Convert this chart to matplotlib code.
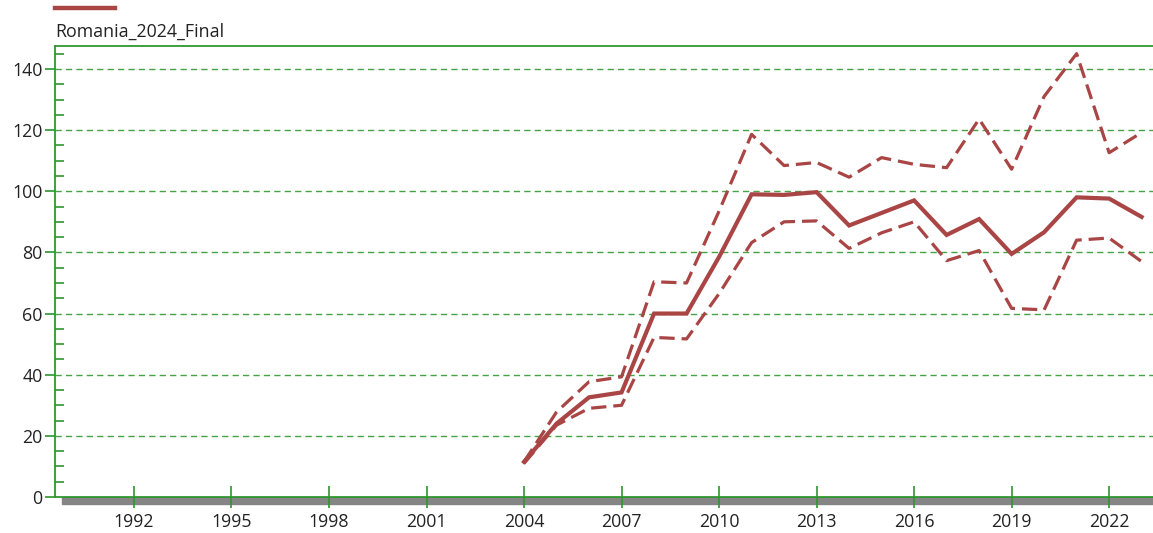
import matplotlib.pyplot as plt
from matplotlib.lines import Line2D
from matplotlib.patches import Rectangle
from matplotlib.ticker import MultipleLocator

years = list(range(2004, 2024))
central = [11.5, 24.0, 32.6, 34.2, 60.0, 60.0, 78.5, 99.0, 98.8, 99.7,
           88.8, 92.9, 97.0, 85.7, 90.9, 79.5, 86.6, 98.0, 97.6, 91.6]
upper = [11.5, 27.8, 37.7, 39.3, 70.4, 70.0, 93.5, 118.6, 108.4, 109.4,
         104.6, 111.0, 108.8, 107.7, 123.6, 107.2, 131.0, 145.0, 112.6, 119.2]
lower = [11.0, 23.5, 29.0, 30.0, 52.2, 51.7, 66.5, 83.2, 90.0, 90.3,
         81.3, 86.4, 90.0, 77.3, 80.6, 61.7, 61.2, 84.0, 84.7, 77.0]
x_ticks = [1992, 1995, 1998, 2001, 2004, 2007, 2010, 2013, 2016, 2019, 2022]
series_name = "Romania_2024_Final"

RED = "#a94545"
GREEN = "#2f962f"
GRID = "#45a345"
TXT = "#222222"

plt.rcParams['font.family'] = ['Open Sans', 'DejaVu Sans']
plt.rcParams['lines.scale_dashes'] = False

fig = plt.figure(figsize=(11.53, 5.33), dpi=100)
ax = fig.add_axes([55 / 1153, 1 - 497 / 533, 1 - 55 / 1153, (497 - 46) / 533])

ax.plot(years, upper, color=RED, lw=2.3, dashes=(11, 5), zorder=3)
ax.plot(years, lower, color=RED, lw=2.3, dashes=(11, 5), zorder=3)
ax.plot(years, central, color=RED, lw=3.0, solid_joinstyle='miter', zorder=4)

ax.set_xlim(1989.57, 2023.35)
ax.set_ylim(0, 147.5)

ax.set_xticks(x_ticks)
ax.set_xticklabels([str(y) for y in x_ticks])
ax.yaxis.set_major_locator(MultipleLocator(20))
ax.yaxis.set_minor_locator(MultipleLocator(5))

for y in range(20, 141, 20):
    ax.axhline(y, color=GRID, lw=1.0, dashes=(4.5, 3), zorder=1)

for side in ['left', 'bottom', 'top']:
    ax.spines[side].set_color(GREEN)
    ax.spines[side].set_linewidth(1.3)
ax.spines['right'].set_visible(False)

ax.tick_params(axis='x', which='major', direction='inout', length=16.5, width=1.2,
               color=GREEN, labelsize=12.8, labelcolor=TXT, pad=3)
ax.tick_params(axis='y', which='major', direction='out', length=7, width=1.2,
               color=GREEN, labelsize=12.8, labelcolor=TXT, pad=2)
ax.tick_params(axis='y', which='minor', direction='in', length=6.5, width=1.2,
               color=GREEN)
ax.tick_params(axis='x', which='minor', bottom=False)

# grey shadow bar under the x axis
fig.add_artist(Rectangle((62 / 1153, 1 - 504 / 533), 1 - 62 / 1153, 7 / 533,
                         transform=fig.transFigure, color='#858585', zorder=0))

# legend at the top-left
fig.add_artist(Line2D([55 / 1153, 115 / 1153], [1 - 7.5 / 533, 1 - 7.5 / 533],
                      transform=fig.transFigure, color=RED, lw=3.2))
fig.text(55 / 1153, 1 - 32 / 533, series_name, fontsize=12.8, color=TXT,
         ha='left', va='center')

fig.savefig("out.png", dpi=100)
